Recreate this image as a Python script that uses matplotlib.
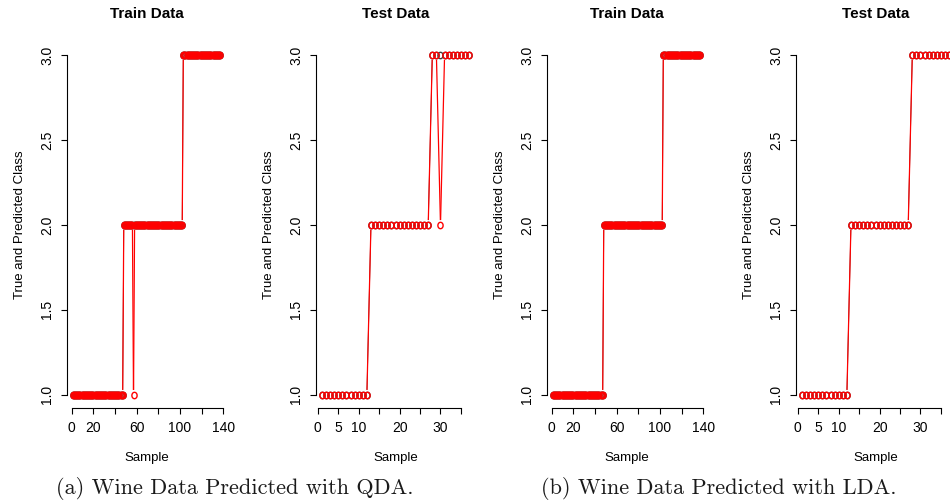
import numpy as np
import matplotlib
matplotlib.use('Agg')
import matplotlib.pyplot as plt
from matplotlib.path import Path
from matplotlib.collections import LineCollection

# --- data ---
train_true = [1] * 47 + [2] * 55 + [3] * 35          # samples 1..137
test_true = [1] * 12 + [2] * 15 + [3] * 10           # samples 1..37

train_pred_qda = [1] * 47 + [2] * 9 + [1] + [2] * 45 + [3] * 35   # sample 58 -> 1
test_pred_qda = [1] * 12 + [2] * 15 + [3, 3, 2] + [3] * 7          # sample 30 -> 2
train_pred_lda = list(train_true)
test_pred_lda = list(test_true)

train_xticks = [0, 20, 40, 60, 80, 100, 120, 140]
train_xlabels = ['0', '20', '', '60', '', '100', '', '140']
test_xticks = [0, 5, 10, 15, 20, 25, 30, 35]
test_xlabels = ['0', '5', '10', '', '20', '', '30', '']
yticks = [1.0, 1.5, 2.0, 2.5, 3.0]

captions = ['(a) Wine Data Predicted with QDA.', '(b) Wine Data Predicted with LDA.']

plt.rcParams['font.family'] = ['Liberation Sans', 'DejaVu Sans']

W, H = 950, 503
fig = plt.figure(figsize=(W / 100, H / 100), dpi=100)

# slightly narrow circle like the squeezed R output
t = np.linspace(0, 2 * np.pi, 40)
ell = Path(np.column_stack([0.82 * np.cos(t), np.sin(t)]))


def type_b(ax, x, y, color, lw, gap=4.8):
    """R-style type='b': open circles joined by lines that stop short of them."""
    pts = ax.transData.transform(np.column_stack([x, y]))
    inv = ax.transData.inverted()
    segs = []
    for p0, p1 in zip(pts[:-1], pts[1:]):
        d = p1 - p0
        L = np.hypot(*d)
        if L > 2 * gap:
            u = d / L
            segs.append(inv.transform(np.array([p0 + u * gap, p1 - u * gap])))
    ax.add_collection(LineCollection(segs, colors=color, linewidths=lw))
    ax.plot(x, y, ls='none', marker=ell, ms=4.6, mfc='none', mec=color, mew=1.0)


def panel(left_px, title, true, pred, xticks, xlabels):
    bottom_px, top_px, width_px = 408.3, 41.4, 159
    ax = fig.add_axes([left_px / W, 1 - bottom_px / H, width_px / W, (bottom_px - top_px) / H])
    x = np.arange(1, len(true) + 1)
    pad = 0.04 * (x.max() - x.min())
    ax.set_xlim(x.min() - pad, x.max() + pad)
    ax.set_ylim(1 - 0.08, 3 + 0.08)

    type_b(ax, x, true, '0.25', 0.6)
    type_b(ax, x, pred, 'red', 0.9)

    for s in ['top', 'right']:
        ax.spines[s].set_visible(False)
    ax.spines['left'].set_bounds(1, 3)
    ax.spines['bottom'].set_bounds(xticks[0], xticks[-1])
    for s in ['left', 'bottom']:
        ax.spines[s].set_linewidth(0.8)

    ax.set_xticks(xticks)
    ax.set_xticklabels(xlabels)
    ax.set_yticks(yticks)
    ax.set_yticklabels([f'{v:.1f}' for v in yticks], rotation=90, va='center')
    ax.tick_params(axis='both', direction='out', length=4.3, width=0.8, labelsize=10)
    ax.tick_params(axis='x', pad=5)
    ax.tick_params(axis='y', pad=5)

    ax.set_title(title, fontsize=11, fontweight='bold', pad=16.5)
    ax.set_xlabel('Sample', fontsize=9.5)
    ax.xaxis.set_label_coords(0.5, -0.118)
    ax.set_ylabel('True and Predicted Class', fontsize=9.5)
    ax.yaxis.set_label_coords(-0.255, 0.5)
    return ax


panel(67, 'Train Data', train_true, train_pred_qda, train_xticks, train_xlabels)
panel(316, 'Test Data', test_true, test_pred_qda, test_xticks, test_xlabels)
panel(547, 'Train Data', train_true, train_pred_lda, train_xticks, train_xlabels)
panel(796, 'Test Data', test_true, test_pred_lda, test_xticks, test_xlabels)

fig.text(235 / W, 1 - 489 / H, captions[0], family='cmr10', fontsize=16,
         ha='center', va='center', color='#1a1a1a')
fig.text(719 / W, 1 - 489 / H, captions[1], family='cmr10', fontsize=16,
         ha='center', va='center', color='#1a1a1a')

fig.savefig('out.png', dpi=100)
